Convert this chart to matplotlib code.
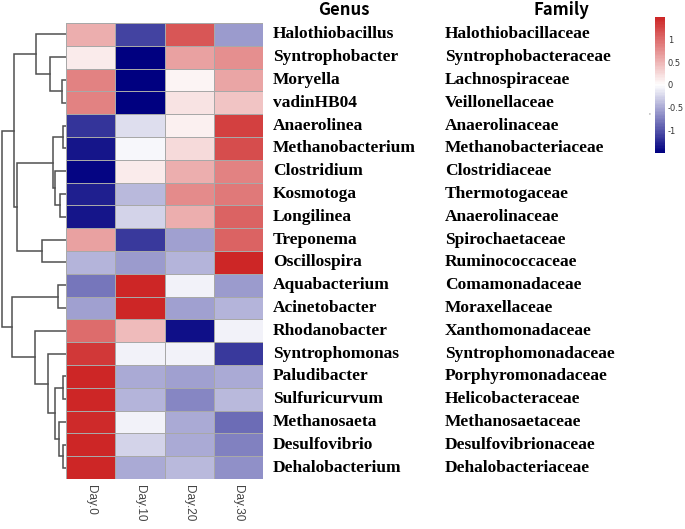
import matplotlib
matplotlib.use("Agg")
import matplotlib.pyplot as plt
import matplotlib.transforms as mtransforms
from matplotlib.colors import LinearSegmentedColormap
import numpy as np

DAYS = ["Day.0", "Day.10", "Day.20", "Day.30"]

GENUS = [
    "Halothiobacillus", "Syntrophobacter", "Moryella", "vadinHB04",
    "Anaerolinea", "Methanobacterium", "Clostridium", "Kosmotoga",
    "Longilinea", "Treponema", "Oscillospira", "Aquabacterium",
    "Acinetobacter", "Rhodanobacter", "Syntrophomonas", "Paludibacter",
    "Sulfuricurvum", "Methanosaeta", "Desulfovibrio", "Dehalobacterium",
]

FAMILY = [
    "Halothiobacillaceae", "Syntrophobacteraceae", "Lachnospiraceae",
    "Veillonellaceae", "Anaerolinaceae", "Methanobacteriaceae",
    "Clostridiaceae", "Thermotogaceae", "Anaerolinaceae", "Spirochaetaceae",
    "Ruminococcaceae", "Comamonadaceae", "Moraxellaceae",
    "Xanthomonadaceae", "Syntrophomonadaceae", "Porphyromonadaceae",
    "Helicobacteraceae", "Methanosaetaceae", "Desulfovibrionaceae",
    "Dehalobacteriaceae",
]

# row-scaled abundance (z-score), one row per genus, columns Day.0 .. Day.30
ZSCORE = [
    [0.55, -1.10, 1.15, -0.60],
    [0.15, -1.50, 0.65, 0.75],
    [0.85, -1.50, 0.06, 0.60],
    [0.85, -1.50, 0.20, 0.40],
    [-1.20, -0.20, 0.10, 1.30],
    [-1.35, -0.04, 0.25, 1.20],
    [-1.47, 0.13, 0.55, 0.85],
    [-1.30, -0.40, 0.80, 0.90],
    [-1.35, -0.27, 0.55, 1.05],
    [0.65, -1.15, -0.55, 1.05],
    [-0.45, -0.60, -0.45, 1.50],
    [-0.80, 1.50, -0.08, -0.60],
    [-0.55, 1.50, -0.55, -0.45],
    [1.00, 0.45, -1.40, -0.07],
    [1.35, -0.09, -0.09, -1.15],
    [1.50, -0.50, -0.55, -0.50],
    [1.50, -0.45, -0.70, -0.40],
    [1.45, -0.09, -0.50, -0.85],
    [1.50, -0.27, -0.50, -0.73],
    [1.50, -0.50, -0.40, -0.65],
]

# row clustering: (left id, right id, height); leaves are 0..19, merges 20+
LINKAGE = [
    (4, 5, 3.0),
    (15, 16, 3.0),
    (18, 19, 3.0),
    (2, 3, 4.0),
    (7, 8, 6.0),
    (17, 22, 7.0),
    (11, 12, 8.0),
    (6, 24, 11.0),
    (21, 25, 11.0),
    (20, 27, 13.0),
    (1, 23, 16.0),
    (14, 28, 18.0),
    (9, 10, 24.0),
    (0, 30, 30.0),
    (13, 31, 31.5),
    (29, 32, 49.0),
    (33, 35, 52.0),
    (26, 34, 54.0),
    (36, 37, 64.0),
]

W, H = 685, 529


def fig_box(x0, y0, x1, y1):
    return [x0 / W, 1 - y1 / H, (x1 - x0) / W, (y1 - y0) / H]


def main():
    cmap = LinearSegmentedColormap.from_list(
        "navy_white_red", ["#000080", "#FFFFFF", "#CD2626"], N=100
    )
    data = np.array(ZSCORE)
    n_rows = len(GENUS)

    fig = plt.figure(figsize=(W / 100, H / 100), dpi=100)

    # heatmap
    ax = fig.add_axes(fig_box(66, 23, 263, 479))
    mesh = ax.pcolormesh(
        data, cmap=cmap, vmin=-1.5, vmax=1.5,
        edgecolors="#A8A8A8", linewidth=0.7,
    )
    ax.set_xlim(0, len(DAYS))
    ax.set_ylim(n_rows, 0)
    for s in ax.spines.values():
        s.set_visible(False)
    ax.set_yticks([])
    ax.set_xticks(np.arange(len(DAYS)) + 0.5)
    ax.set_xticklabels(
        DAYS, rotation=270, fontsize=8.5, color="#444444",
        family="Liberation Sans", ha="center", va="top",
    )
    ax.tick_params(axis="x", length=0, pad=4)

    # genus / family labels
    trans = mtransforms.blended_transform_factory(fig.transFigure, ax.transData)
    for i in range(n_rows):
        ax.text(273 / W, i + 0.5, GENUS[i], transform=trans,
                fontsize=12.5, fontweight="bold", family="Liberation Serif",
                ha="left", va="center")
        ax.text(445 / W, i + 0.5, FAMILY[i], transform=trans,
                fontsize=12.5, fontweight="bold", family="Liberation Serif",
                ha="left", va="center")

    head_font = ["Noto Sans CJK KR", "DejaVu Sans"]
    fig.text(344 / W, 1 - 10 / H, "Genus", fontsize=12, fontweight="bold",
             family=head_font, ha="center", va="center")
    fig.text(561 / W, 1 - 10 / H, "Family", fontsize=12, fontweight="bold",
             family=head_font, ha="center", va="center")

    # dendrogram
    dax = fig.add_axes(fig_box(0, 23, 66, 479))
    dax.set_xlim(66, 0)
    dax.set_ylim(n_rows, 0)
    dax.axis("off")
    pos = {i: i + 0.5 for i in range(n_rows)}
    hgt = {i: 0.0 for i in range(n_rows)}
    for k, (a, b, h) in enumerate(LINKAGE):
        node = n_rows + k
        dax.plot([hgt[a], h, h, hgt[b]], [pos[a], pos[a], pos[b], pos[b]],
                 color="#505050", linewidth=1.1, solid_joinstyle="miter")
        pos[node] = (pos[a] + pos[b]) / 2
        hgt[node] = h

    # colorbar
    cax = fig.add_axes(fig_box(655, 17, 665, 153))
    cbar = fig.colorbar(mesh, cax=cax, ticks=[-1, -0.5, 0, 0.5, 1])
    cbar.ax.set_yticklabels(["-1", "-0.5", "0", "0.5", "1"])
    cbar.outline.set_visible(False)
    cbar.ax.tick_params(length=0, pad=2, labelsize=6, labelcolor="#333333")
    fig.text(649 / W, 1 - 115 / H, "'", fontsize=5, color="#777777",
             ha="center", va="center")

    fig.savefig("out.png", dpi=100)


if __name__ == "__main__":
    main()
